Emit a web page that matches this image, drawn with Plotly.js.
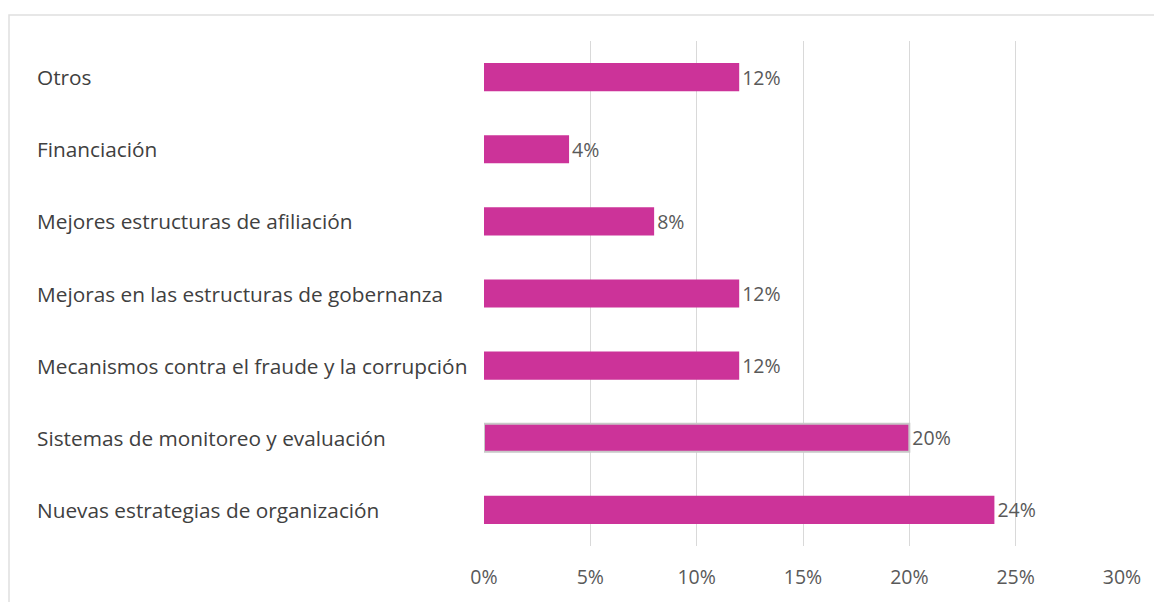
<!DOCTYPE html>
<html>
<head>
<meta charset="utf-8">
<script src="https://cdn.plot.ly/plotly-3.0.1.min.js"></script>
<style>html,body{margin:0;padding:0;background:#fff;}#chart{width:1154px;height:602px;}</style>
</head>
<body>
<div id="chart"></div>
<script>
const categories = [
  "Nuevas estrategias de organización",
  "Sistemas de monitoreo y evaluación",
  "Mecanismos contra el fraude y la corrupción",
  "Mejoras en las estructuras de gobernanza",
  "Mejores estructuras de afiliación",
  "Financiación",
  "Otros"
];
const values = [0.24, 0.20, 0.12, 0.12, 0.08, 0.04, 0.12];
const valueLabels = ["24%", "20%", "12%", "12%", "8%", "4%", "12%"];
const xTickValues = [0, 0.05, 0.10, 0.15, 0.20, 0.25, 0.30];
const xTickLabels = ["0%", "5%", "10%", "15%", "20%", "25%", "30%"];

const FONT = "Open Sans, Noto Sans, sans-serif";
const W = 1154, L = 484, R = 32;
const plotW = W - L - R;
const labelX = (35 - L) / plotW;

const trace = {
  type: "bar",
  orientation: "h",
  y: categories,
  x: values,
  text: valueLabels,
  textposition: "outside",
  cliponaxis: false,
  textfont: {family: FONT, size: 19.5, color: "#595959"},
  marker: {
    color: "#CC3399",
    line: {
      color: categories.map(c => c === "Sistemas de monitoreo y evaluación" ? "#c8c8c8" : "rgba(0,0,0,0)"),
      width: 2
    }
  },
  width: 0.39,
  hoverinfo: "none"
};

const annotations = categories.map(c => ({
  xref: "paper", yref: "y",
  x: labelX, y: c,
  text: c,
  showarrow: false,
  xanchor: "left", yanchor: "middle",
  font: {family: FONT, size: 20.8, color: "#404040"}
}));

const layout = {
  width: 1154, height: 602,
  margin: {l: L, r: R, t: 41, b: 56},
  paper_bgcolor: "#fff",
  plot_bgcolor: "#fff",
  showlegend: false,
  xaxis: {
    range: [0, 0.30],
    tickvals: xTickValues,
    ticktext: xTickLabels,
    showgrid: true,
    gridcolor: "#d9d9d9",
    gridwidth: 1,
    zeroline: false,
    showline: false,
    ticks: "outside",
    ticklen: 14,
    tickcolor: "rgba(0,0,0,0)",
    tickfont: {family: FONT, size: 19.5, color: "#595959"},
    fixedrange: true
  },
  yaxis: {
    categoryorder: "array",
    categoryarray: categories,
    range: [-0.5, categories.length - 0.5],
    showticklabels: false,
    showgrid: false,
    zeroline: false,
    showline: false,
    fixedrange: true
  },
  annotations: annotations,
  shapes: [{
    type: "rect", xref: "paper", yref: "paper",
    x0: (9 - L) / plotW, x1: (1200 - L) / plotW,
    y0: -1, y1: 1 + (41 - 15) / (602 - 41 - 56),
    line: {color: "#e0e0e0", width: 1.5},
    fillcolor: "rgba(0,0,0,0)",
    layer: "below"
  }]
};

Plotly.newPlot("chart", [trace], layout, {displayModeBar: false, staticPlot: true});
</script>
</body>
</html>
